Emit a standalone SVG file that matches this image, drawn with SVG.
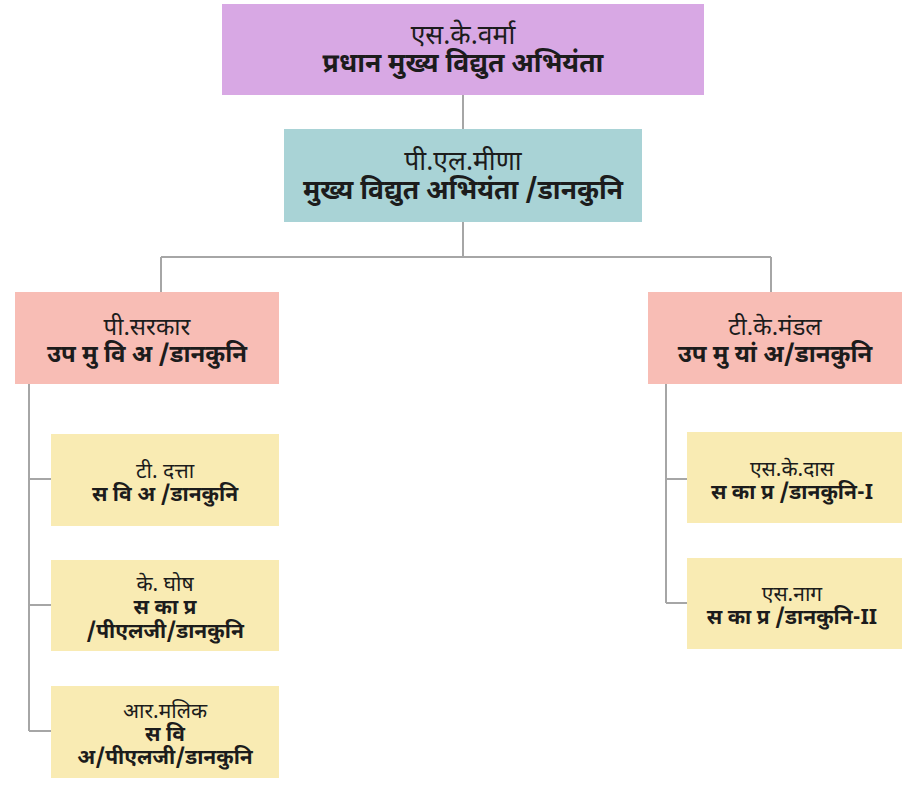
<svg xmlns="http://www.w3.org/2000/svg" width="910" height="787" viewBox="0 0 910 787">
<style>
text{font-family:"Noto Sans Devanagari","Noto Sans","Liberation Sans",sans-serif;fill:#1c1c1c;text-anchor:middle}
.n{font-weight:normal}
.b{font-weight:bold}
.x{font-size:26.5px}
.l{font-size:24px}
.s{font-size:21px}
.c{stroke:#a6a6a6;stroke-width:2;fill:none}
.p{fill:#d8a8e4}
.t{fill:#a9d3d6}
.r{fill:#f8bdb5}
.y{fill:#f9ebb3}
</style>
<rect width="910" height="787" fill="#ffffff"/>
<g id="connectors">
<path class="c" d="M463 95V129"/>
<path class="c" d="M463 222V257M161 257H771M161 257V292M771 257V292"/>
<path class="c" d="M29 384V731M29 479H51M29 605H51M29 731H51"/>
<path class="c" d="M666 384V603M666 479H687M666 603H687"/>
</g>
<g id="n1"><rect class="p" x="222" y="4" width="482" height="91"/>
<text class="x n" x="463" y="44">एस.के.वर्मा</text>
<text class="x b" x="463" y="72">प्रधान मुख्य विद्युत अभियंता</text></g>
<g id="n2"><rect class="t" x="284" y="129" width="358" height="93"/>
<text class="x n" x="463" y="170">पी.एल.मीणा</text>
<text class="x b" x="463" y="199">मुख्य विद्युत अभियंता /डानकुनि</text></g>
<g id="n3"><rect class="r" x="15" y="292" width="264" height="92"/>
<text class="l n" x="147" y="335">पी.सरकार</text>
<text class="l b" x="147" y="362">उप मु वि अ /डानकुनि</text></g>
<g id="n4"><rect class="r" x="648" y="292" width="254" height="92"/>
<text class="l n" x="775" y="335">टी.के.मंडल</text>
<text class="l b" x="775" y="362">उप मु यां अ/डानकुनि</text></g>
<g id="n5"><rect class="y" x="51" y="434" width="228" height="92"/>
<text class="s n" x="165" y="478">टी. दत्ता</text>
<text class="s b" x="165" y="501">स वि अ /डानकुनि</text></g>
<g id="n6"><rect class="y" x="51" y="560" width="228" height="91"/>
<text class="s n" x="165" y="591">के. घोष</text>
<text class="s b" x="165" y="614">स का प्र</text>
<text class="s b" x="165" y="638">/पीएलजी/डानकुनि</text></g>
<g id="n7"><rect class="y" x="51" y="686" width="228" height="92"/>
<text class="s n" x="165" y="718">आर.मलिक</text>
<text class="s b" x="165" y="741">स वि</text>
<text class="s b" x="165" y="764">अ/पीएलजी/डानकुनि</text></g>
<g id="n8"><rect class="y" x="687" y="432" width="215" height="91"/>
<text class="s n" x="792" y="476">एस.के.दास</text>
<text class="s b" x="792" y="499">स का प्र /डानकुनि-I</text></g>
<g id="n9"><rect class="y" x="687" y="558" width="215" height="91"/>
<text class="s n" x="792" y="601">एस.नाग</text>
<text class="s b" x="792" y="624">स का प्र /डानकुनि-II</text></g>
</svg>
